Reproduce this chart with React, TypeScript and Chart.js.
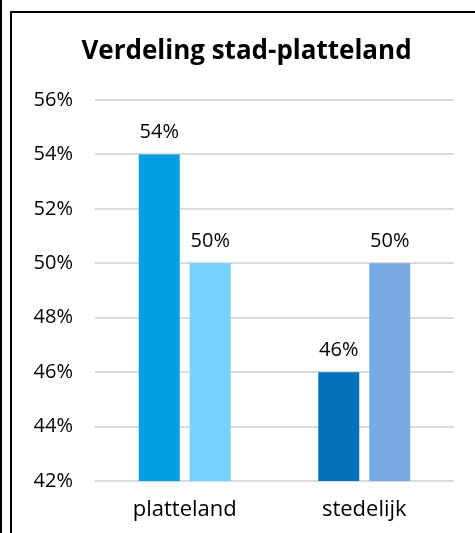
import React, { useEffect, useRef } from "react";
import { Chart, registerables } from "chart.js";

Chart.register(...registerables);

const TITLE = "Verdeling stad-platteland";
const CATEGORIES = ["platteland", "stedelijk"];
const SERIES_A = [54, 46];
const SERIES_B = [50, 50];
const COLORS_A = ["#009FE3", "#0570BA"];
const COLORS_B = ["#73D2FF", "#78AAE6"];
const Y_MIN = 42;
const Y_MAX = 56;
const Y_STEP = 2;

const FONT = "'Open Sans', 'Noto Sans', sans-serif";

const valueLabels = {
  id: "valueLabels",
  afterDatasetsDraw(chart: any) {
    const ctx = chart.ctx;
    ctx.save();
    ctx.fillStyle = "#000";
    ctx.font = `20px ${FONT}`;
    ctx.textAlign = "center";
    ctx.textBaseline = "alphabetic";
    chart.data.datasets.forEach((ds: any, di: number) => {
      const meta = chart.getDatasetMeta(di);
      meta.data.forEach((bar: any, i: number) => {
        const v = ds.data[i];
        ctx.fillText(`${v}%`, bar.x, bar.y - 16);
      });
    });
    ctx.restore();
  },
};

const titlePlugin = {
  id: "customTitle",
  afterDraw(chart: any) {
    const ctx = chart.ctx;
    ctx.save();
    ctx.fillStyle = "#000";
    ctx.font = `bold 26px ${FONT}`;
    ctx.textAlign = "center";
    ctx.textBaseline = "alphabetic";
    ctx.fillText(TITLE, 246.5, 58.5);
    ctx.restore();
  },
};

export default function App() {
  const ref = useRef<HTMLCanvasElement | null>(null);
  useEffect(() => {
    if (!ref.current) return;
    const chart = new Chart(ref.current, {
      type: "bar",
      data: {
        labels: CATEGORIES,
        datasets: [
          {
            data: SERIES_A,
            backgroundColor: COLORS_A,
            barPercentage: 0.804,
            categoryPercentage: 0.568,
          },
          {
            data: SERIES_B,
            backgroundColor: COLORS_B,
            barPercentage: 0.804,
            categoryPercentage: 0.568,
          },
        ],
      },
      options: {
        animation: false,
        responsive: false,
        maintainAspectRatio: false,
        layout: { padding: { left: 30, right: 21, top: 100, bottom: 12 } },
        plugins: {
          legend: { display: false },
          tooltip: { enabled: false },
          title: { display: false },
        },
        scales: {
          x: {
            grid: { display: false, drawTicks: false },
            border: { display: false },
            afterFit(scale: any) {
              scale.height = 40;
            },
            ticks: {
              color: "#000",
              font: { family: FONT, size: 22, lineHeight: 1.2 },
              padding: 16,
              maxRotation: 0,
            },
          },
          y: {
            min: Y_MIN,
            max: Y_MAX,
            grid: { color: "#D9D9D9", lineWidth: 2, drawTicks: false },
            border: { display: false },
            afterFit(scale: any) {
              scale.width = 65;
            },
            ticks: {
              stepSize: Y_STEP,
              color: "#000",
              padding: 22,
              font: { family: FONT, size: 20 },
              callback: (v: any) => `${v}%`,
            },
          },
        },
      },
      plugins: [valueLabels, titlePlugin],
    });
    return () => chart.destroy();
  }, []);

  return (
    <div
      style={{
        position: "fixed",
        left: 0,
        top: 0,
        width: 475,
        height: 533,
        overflow: "hidden",
        background: "#fff",
      }}
    >
      <div style={{ position: "absolute", left: 0, top: 0, width: 2, height: 533, background: "#000" }} />
      <div
        style={{
          position: "absolute",
          left: 10,
          top: 11,
          width: 500,
          height: 600,
          border: "2px solid #000",
        }}
      />
      <canvas
        ref={ref}
        width={475}
        height={533}
        style={{ position: "absolute", left: 0, top: 0, width: 475, height: 533 }}
      />
    </div>
  );
}
